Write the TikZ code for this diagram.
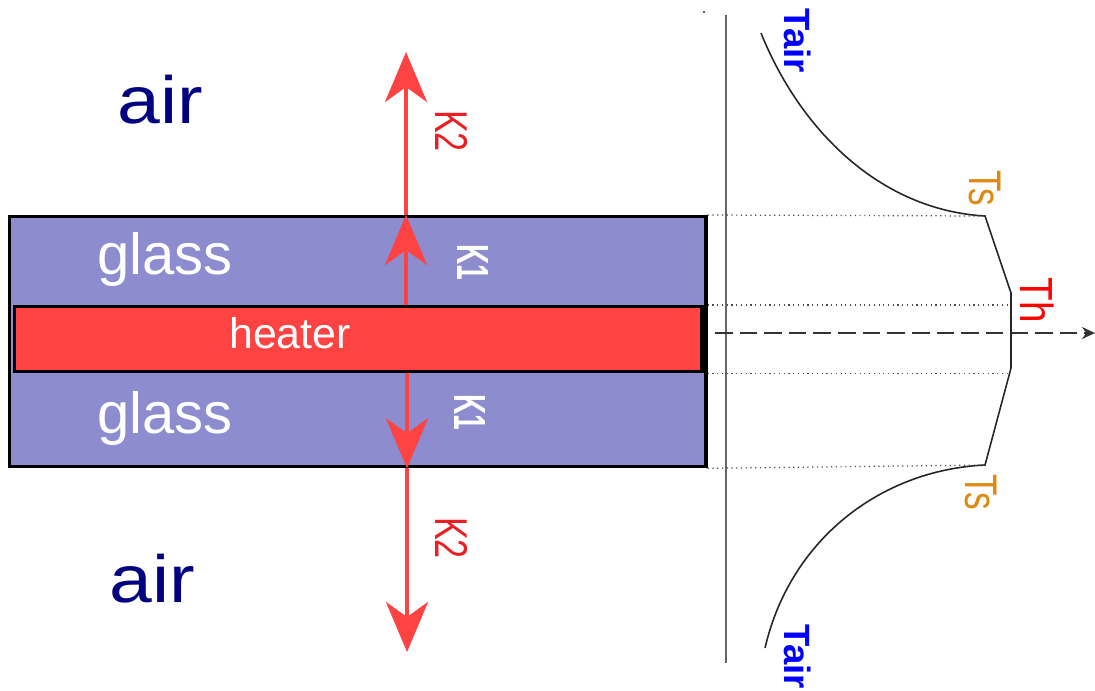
\documentclass[tikz,border=0pt]{standalone}
\usepackage{fontspec}
\setmainfont{Liberation Sans}
\usetikzlibrary{arrows.meta,positioning,calc}
\definecolor{glasscolor}{RGB}{140,140,206}
\definecolor{heatcolor}{RGB}{255,66,66}
\definecolor{aircolor}{RGB}{0,0,128}
\definecolor{surfcolor}{RGB}{222,138,18}
\definecolor{tempcolor}{RGB}{0,0,255}
\definecolor{kcolor}{RGB}{235,30,35}
\tikzset{
  layerbox/.style={draw=black, line width=0.9pt, anchor=north west, inner sep=0pt},
  fluxln/.style={-{Stealth[length=5mm,width=4.2mm,inset=1.5mm]}, line width=1.2pt, heatcolor},
  guideln/.style={densely dotted, line width=0.35pt, black!70},
  profileln/.style={line width=0.45pt, black!85},
  sidelbl/.style={rotate=-90, inner sep=0pt},
  bigtxt/.style={font=\fontsize{#1}{#1}\selectfont, inner sep=0pt, anchor=base},
}
\newcommand{\tall}[2]{\scalebox{1}[#1]{#2}}

\begin{document}
\begin{tikzpicture}[x=0.01cm, y=-0.01cm]
    \useasboundingbox (0,0) rectangle (1095,690);
    % layers
    \node[layerbox, fill=glasscolor, minimum width=6.96cm, minimum height=2.5cm] (glass) at (8,215) {};
    \node[layerbox, fill=heatcolor, minimum width=6.87cm, minimum height=0.65cm] (heater) at (13,305) {};
    \node[bigtxt=16.5pt, white] (glassTop) at (165,274) {glass};
    \node[bigtxt=16.5pt, white] (glassBot) at (165,433) {glass};
    \node[bigtxt=12.2pt, white] (heatTxt) at (290,348) {heater};
    \node[bigtxt=19pt, aircolor] (airTop) at (160,123) {\scalebox{1.15}[1]{air}};
    \node[bigtxt=19pt, aircolor] (airBot) at (152,602) {\scalebox{1.15}[1]{air}};
    % heat flux arrows
    \coordinate (kTop) at (406,52);
    \coordinate (kBot) at (407,652);
    \draw[fluxln] (heater.north -| kTop) -- (glass.north -| kTop);
    \draw[fluxln] (glass.north -| kTop) -- (kTop);
    \draw[fluxln] (heater.south -| kBot) -- (glass.south -| kBot);
    \draw[fluxln] (glass.south -| kBot) -- (kBot);
    \node[sidelbl, kcolor, font=\fontsize{9.7pt}{9.7pt}\selectfont] (kTwoTop) at (452,131) {\tall{1.35}{K2}};
    \node[sidelbl, kcolor, font=\fontsize{9.7pt}{9.7pt}\selectfont] (kTwoBot) at (452,538) {\tall{1.35}{K2}};
    \node[sidelbl, white, font=\bfseries\fontsize{8pt}{8pt}\selectfont] (kOneTop) at (473,262) {\tall{1.6}{K1}};
    \node[sidelbl, white, font=\bfseries\fontsize{8pt}{8pt}\selectfont] (kOneBot) at (470,412) {\tall{1.6}{K1}};
    % temperature axes
    \fill[black!80] (704,12) circle (1.2);
    \coordinate (axTop) at (726,15);
    \coordinate (axBot) at (726,663);
    \draw[line width=0.6pt, black!60] (axTop) -- (axBot);
    \coordinate (midL) at (715,333);
    \coordinate (midR) at (1095,333);
    \draw[line width=0.5pt, black!80, dash pattern=on 5pt off 2pt, -{Stealth[length=1.3mm,width=1.2mm]}] (midL) -- (midR);
    % temperature profile
    \coordinate (tairTop) at (761,33);
    \coordinate (tsTop) at (985,216);
    \coordinate (thTop) at (1011,293);
    \coordinate (thBot) at (1011,368);
    \coordinate (tsBot) at (985,465);
    \coordinate (tairBot) at (765,648);
    \draw[profileln] (tairTop) .. controls (800,130) and (880,210) .. (tsTop)
      -- (thTop) -- (thBot) -- (tsBot)
      .. controls (880,470) and (790,540) .. (tairBot);
    \draw[guideln] (glass.north east) -- (tsTop);
    \draw[guideln] (glass.east |- heater.north) -- (thTop |- heater.north);
    \draw[guideln] (glass.east |- heater.south) -- (thBot |- heater.south);
    \draw[guideln] (glass.south east) -- (tsBot);
    % profile labels
    \node[sidelbl, tempcolor, font=\bfseries\fontsize{10.4pt}{10.4pt}\selectfont] (tairTopLbl) at (798,41) {Tair};
    \node[sidelbl, tempcolor, font=\bfseries\fontsize{10.4pt}{10.4pt}\selectfont] (tairBotLbl) at (798,657) {Tair};
    \node[sidelbl, surfcolor, font=\fontsize{10pt}{10pt}\selectfont] (tsTopLbl) at (985,188) {\tall{1.3}{Ts}};
    \node[sidelbl, surfcolor, font=\fontsize{10pt}{10pt}\selectfont] (tsBotLbl) at (981,492) {\tall{1.3}{Ts}};
    \node[sidelbl, red, font=\fontsize{11pt}{11pt}\selectfont] (thLbl) at (1037,300) {\tall{1.2}{Th}};
  \end{tikzpicture}
\end{document}
